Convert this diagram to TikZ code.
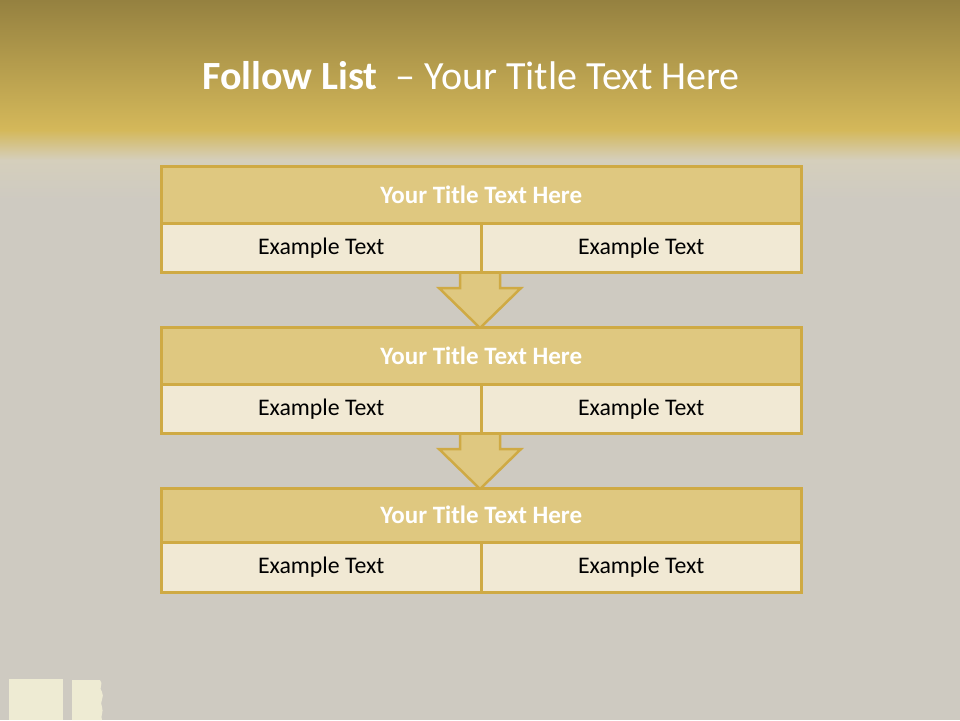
\documentclass[tikz,border=0pt]{standalone}
\usepackage{fontspec}
\setmainfont{Carlito}
\definecolor{bgtop}{HTML}{958140}
\definecolor{bgmid}{HTML}{D4B85A}
\definecolor{bgfade}{HTML}{D5CFBC}
\definecolor{bggrey}{HTML}{CECAC1}
\definecolor{hdrfill}{HTML}{DFC880}
\definecolor{cellfill}{HTML}{F1E9D4}
\definecolor{gborder}{HTML}{CFAA44}
\definecolor{cream}{HTML}{F2EFD6}
\tikzset{
  hdr/.style={draw=gborder, line width=2.5pt, fill=hdrfill, text=white,
    font=\fontsize{25}{28}\selectfont\bfseries, inner sep=0pt},
  cell/.style={draw=gborder, line width=2.5pt, fill=cellfill, text=black,
    font=\fontsize{23.8}{27}\selectfont, inner sep=0pt},
  downarrow/.style={draw=gborder, line width=2.5pt, fill=hdrfill, line join=miter}
}
\begin{document}
\begin{tikzpicture}[x=1pt,y=-1pt]
\useasboundingbox (0,0) rectangle (960,720);
% background
\fill[bggrey] (0,0) rectangle (960,720);
\shade[top color=bgtop, bottom color=bgmid] (0,0) rectangle (960,130);
\shade[top color=bgmid, bottom color=bgfade] (0,130) rectangle (960,160);
\shade[top color=bgfade, bottom color=bggrey] (0,160) rectangle (960,200);
% bottom-left light shapes
\fill[cream, opacity=0.9] (9,679) rectangle (63,720);
\fill[cream, opacity=0.9] (72,680) -- (100,680) .. controls (104,684) and (98,688) .. (102,692)
  .. controls (105,697) and (99,702) .. (102,707) .. controls (104,712) and (100,716) .. (102,720) -- (72,720) -- cycle;
% title
\node[text=white, font=\fontsize{40}{44}\selectfont] (title) at (471,76)
  {\textbf{Follow List}\ \ – Your Title Text Here};
% arrows (drawn first so tables overlap)
\foreach \t/\b/\n in {271/328/a1,432/489/a2}{
  \draw[downarrow] (460,\t-2) -- (500,\t-2) -- (500,\t+17) -- (521,\t+17) -- (480,\b)
    -- (439,\t+17) -- (460,\t+17) -- cycle;
}
% tables
\foreach \top/\mid/\bot/\k in {165/222/271/1,326/383/432/2,487/541/591/3}{
  \node[hdr, minimum width=640pt, minimum height={\mid-\top}, anchor=north west]
    (h\k) at (160,\top) {Your Title Text Here};
  \node[cell, minimum width=320pt, minimum height={\bot-\mid}, anchor=north west]
    (l\k) at (160,\mid) {Example Text};
  \node[cell, minimum width=320pt, minimum height={\bot-\mid}, anchor=north west]
    (r\k) at (480,\mid) {Example Text};
}
\end{tikzpicture}
\end{document}
